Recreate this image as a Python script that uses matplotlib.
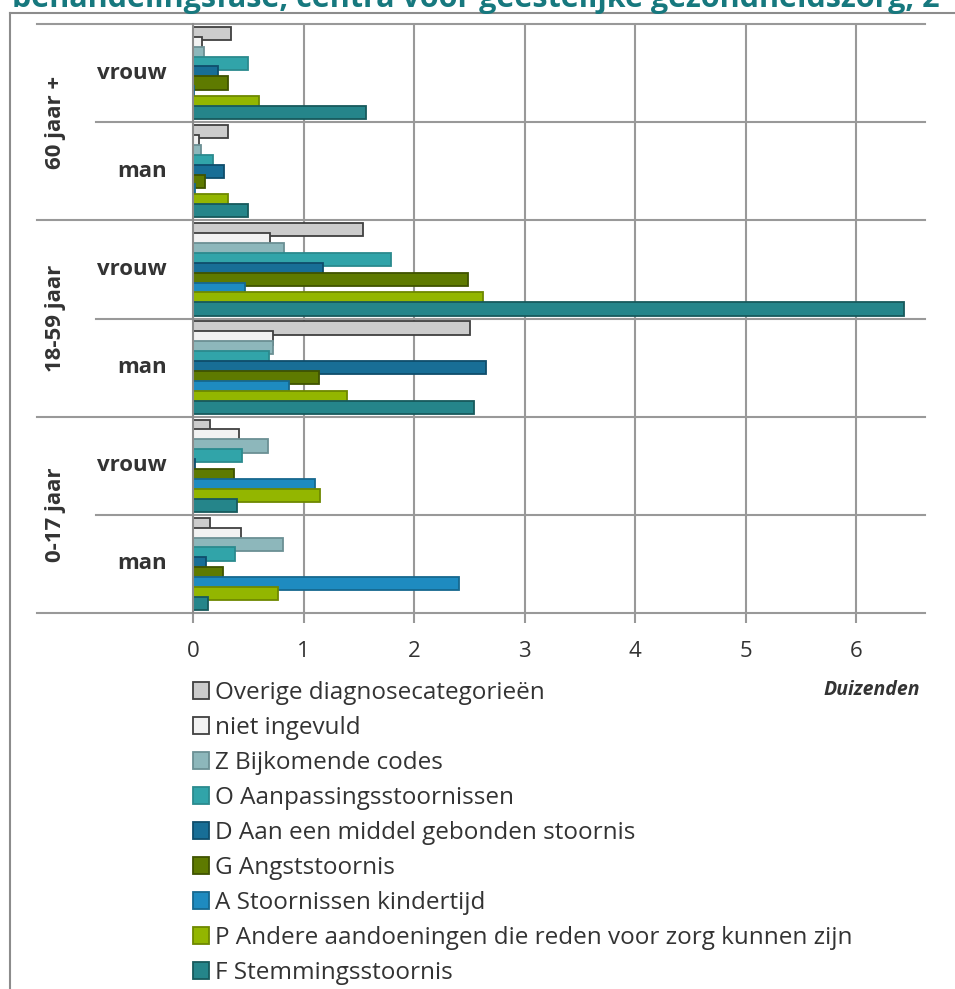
"""
Horizontal grouped bars: diagnosis categories per age group and sex
"""

import matplotlib
matplotlib.use("Agg")
import matplotlib.pyplot as plt
from matplotlib.lines import Line2D
from matplotlib.patches import Patch
from matplotlib.transforms import blended_transform_factory

plt.rcParams['font.family'] = ['Open Sans', 'DejaVu Sans']

# DATA (values in thousands)

# groups from bottom to top
groups = ['man', 'vrouw', 'man', 'vrouw', 'man', 'vrouw']
age_groups = ['0-17 jaar', '18-59 jaar', '60 jaar +']

series_names = [
    'Overige diagnosecategorieën',
    'niet ingevuld',
    'Z Bijkomende codes',
    'O Aanpassingsstoornissen',
    'D Aan een middel gebonden stoornis',
    'G Angststoornis',
    'A Stoornissen kindertijd',
    'P Andere aandoeningen die reden voor zorg kunnen zijn',
    'F Stemmingsstoornis',
]

# each list: 0-17 man, 0-17 vrouw, 18-59 man, 18-59 vrouw, 60+ man, 60+ vrouw
overige = [0.15, 0.15, 2.51, 1.54, 0.32, 0.34]
niet_ingevuld = [0.43, 0.42, 0.72, 0.70, 0.05, 0.08]
z_bijkomend = [0.81, 0.68, 0.72, 0.82, 0.07, 0.10]
o_aanpassing = [0.38, 0.44, 0.69, 1.79, 0.18, 0.50]
d_middel = [0.12, 0.02, 2.65, 1.18, 0.28, 0.23]
g_angst = [0.27, 0.37, 1.14, 2.49, 0.11, 0.32]
a_kindertijd = [2.41, 1.10, 0.87, 0.47, 0.02, 0.01]
p_andere = [0.77, 1.15, 1.39, 2.62, 0.32, 0.60]
f_stemming = [0.14, 0.40, 2.54, 6.43, 0.50, 1.57]

values = [overige, niet_ingevuld, z_bijkomend, o_aanpassing, d_middel,
          g_angst, a_kindertijd, p_andere, f_stemming]

fills = ['#CCCCCC', '#F2F2F2', '#8DB7BB', '#31A4A9', '#186E96',
         '#5E7A00', '#1E8BC0', '#93B600', '#25858A']
edges = ['#404040', '#404040', '#6B9094', '#2B8A8E', '#0F4D6B',
         '#3F5300', '#16688F', '#6E8800', '#17595C']

# FIGURE

W, H = 955, 989
fig = plt.figure(figsize=(W / 100, H / 100), dpi=100)

def fx(px):
    return px / W

def fy(py):
    return 1 - py / H

ax_left, ax_right, ax_top, ax_bottom = 193, 925, 24, 613
ax = fig.add_axes([fx(ax_left), fy(ax_bottom), fx(ax_right - ax_left), (ax_bottom - ax_top) / H])

step = 0.1008
bar_h = 0.135
for i, vals in enumerate(values):
    pos = [g + (4 - i) * step for g in range(len(groups))]
    ax.barh(pos, vals, height=bar_h, color=fills[i], edgecolor=edges[i],
            linewidth=1.3, zorder=3 + i)

ax.set_xlim(0, (ax_right - ax_left) / 110.5)
ax.set_ylim(-0.5, len(groups) - 0.5)
ax.set_xticks(range(0, 7))
ax.set_xticklabels([str(t) for t in range(0, 7)], fontsize=16, color='#333333')
ax.set_yticks([])
ax.tick_params(axis='x', length=7, width=1.5, color='#999999', pad=13)
ax.grid(axis='x', color='#999999', linewidth=1.5, zorder=0)
for s in ['top', 'right', 'bottom']:
    ax.spines[s].set_visible(False)
ax.spines['left'].set_color('#8C8C8C')
ax.spines['left'].set_linewidth(1.5)
ax.spines['left'].set_zorder(20)

# category separators
tr = blended_transform_factory(fig.transFigure, ax.transData)
for k in range(len(groups) + 1):
    y = k - 0.5
    x0 = 37 if k % 2 == 0 else 96
    ax.plot([fx(x0), fx(ax_right)], [y, y], transform=tr, color='#999999',
            linewidth=1.5, clip_on=False, zorder=1)

# category labels
for k, lab in enumerate(groups):
    ax.text(fx(167), k, lab, transform=tr, ha='right', va='center',
            fontsize=16, fontweight='bold', color='#333333')
for k, lab in enumerate(age_groups):
    ax.text(fx(55), 2 * k + 0.5, lab, transform=tr, ha='center', va='center',
            rotation=90, fontsize=16, fontweight='bold', color='#333333')

fig.text(fx(920), fy(690), 'Duizenden', ha='right', va='center', fontsize=14,
         fontweight='bold', fontstyle='italic', color='#333333')

# legend
handles = [Patch(facecolor=fills[i], edgecolor=edges[i], linewidth=1.3)
           for i in range(len(series_names))]
fig.legend(handles, series_names, loc='upper left', bbox_to_anchor=(fx(193), fy(681)),
           frameon=False, fontsize=17.5, handlelength=0.66, handleheight=0.66,
           handletextpad=0.25, labelspacing=0.453, borderaxespad=0, borderpad=0,
           labelcolor='#333333')

# outer frame and clipped title
fig.add_artist(Line2D([fx(10), fx(10)], [fy(13), 0], color='#8C8C8C', linewidth=1.5))
fig.add_artist(Line2D([fx(10), 1], [fy(13), fy(13)], color='#8C8C8C', linewidth=1.5))
fig.text(fx(12), fy(7), 'behandelingsfase, centra voor geestelijke gezondheidszorg, 2',
         ha='left', va='baseline', fontsize=22, fontweight='bold', color='#17787E')

fig.savefig('out.png', dpi=100)
